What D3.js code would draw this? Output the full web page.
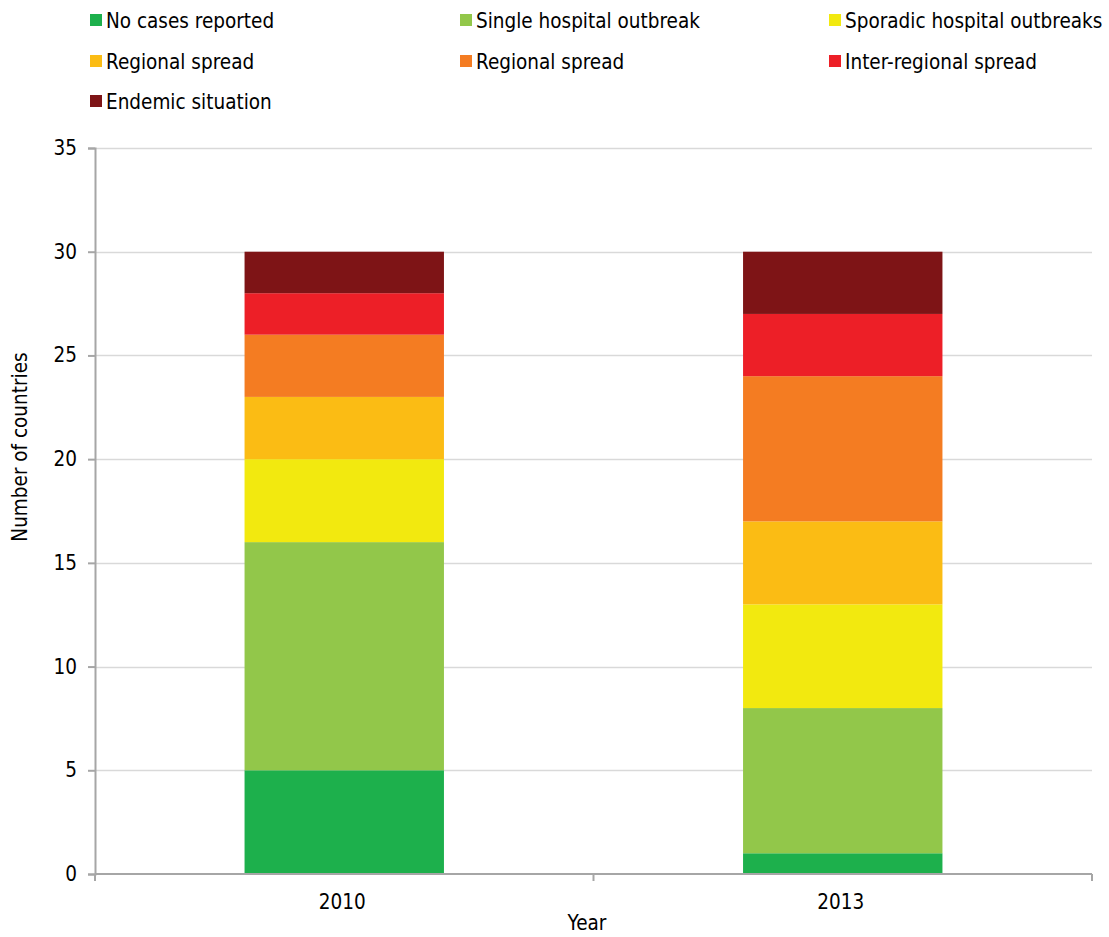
<!DOCTYPE html>
<html>
<head>
<meta charset="utf-8">
<script src="https://cdn.jsdelivr.net/npm/d3@7"></script>
<style>
  html, body { margin: 0; padding: 0; background: #fff; }
  svg { display: block; font-family: "DejaVu Sans Condensed", "DejaVu Sans", sans-serif; }
</style>
</head>
<body>
<svg id="chart" width="1109" height="937"></svg>
<script>
// Country counts by epidemiological stage, per survey year
const years = ["2010", "2013"];
const stages = [
  "No cases reported",
  "Single hospital outbreak",
  "Sporadic hospital outbreaks",
  "Regional spread",
  "Regional spread ",
  "Inter-regional spread",
  "Endemic situation"
];
const values2010 = [5, 11, 4, 3, 3, 2, 2];
const values2013 = [1, 7, 5, 4, 7, 3, 3];
const stageColors = ["#1db04c", "#92c74a", "#f2e90f", "#fbbc14", "#f47c22", "#ed1f27", "#7e1416"];
const yTicks = [0, 5, 10, 15, 20, 25, 30, 35];

const FS = 20.5;
const svg = d3.select("#chart");
const margin = { left: 95, right: 17, top: 148, bottom: 63 };
const W = 1109, H = 937;
const plotW = W - margin.left - margin.right;
const plotH = H - margin.top - margin.bottom;

const rows = years.map((y, i) => {
  const vals = i === 0 ? values2010 : values2013;
  const r = { year: y };
  stages.forEach((s, j) => r[s] = vals[j]);
  return r;
});

const x = d3.scaleBand().domain(years).range([0, plotW]).paddingInner(0.6).paddingOuter(0.3);
const xOuter = d3.scaleBand().domain(years).range([0, plotW]);
const y = d3.scaleLinear().domain([0, 35]).range([plotH, 0]);

const g = svg.append("g").attr("transform", `translate(${margin.left},${margin.top})`);

// horizontal gridlines
g.append("g").selectAll("line").data(yTicks.filter(d => d > 0)).join("line")
  .attr("x1", 0).attr("x2", plotW)
  .attr("y1", d => Math.round(y(d)) + 0.5).attr("y2", d => Math.round(y(d)) + 0.5)
  .attr("stroke", "#d9d9d9").attr("stroke-width", 1.3);

// stacked bars
const series = d3.stack().keys(stages)(rows);
g.append("g").selectAll("g").data(series).join("g")
  .attr("fill", (d, i) => stageColors[i])
  .selectAll("rect").data(d => d).join("rect")
  .attr("x", d => x(d.data.year))
  .attr("width", x.bandwidth())
  .attr("y", d => y(d[1]))
  .attr("height", d => y(d[0]) - y(d[1]));

// y axis
const yAxis = g.append("g").call(d3.axisLeft(y).tickValues(yTicks).tickSize(7).tickPadding(11));
yAxis.select(".domain").attr("stroke", "#a6a6a6").attr("stroke-width", 2);
yAxis.selectAll(".tick line").attr("stroke", "#a6a6a6").attr("stroke-width", 2);
yAxis.selectAll(".tick text").attr("font-size", FS).attr("fill", "#000")
  .attr("font-family", "DejaVu Sans Condensed, DejaVu Sans, sans-serif");

// x axis with tick marks on category boundaries
const xg = g.append("g").attr("transform", `translate(0,${plotH})`);
xg.append("line").attr("x1", 0).attr("x2", plotW).attr("y1", 0).attr("y2", 0)
  .attr("stroke", "#a6a6a6").attr("stroke-width", 2);
const bounds = [0].concat(years.map(d => xOuter(d) + xOuter.bandwidth()));
xg.selectAll("line.b").data(bounds).join("line").attr("class", "b")
  .attr("x1", d => d).attr("x2", d => d).attr("y1", 0).attr("y2", 7)
  .attr("stroke", "#a6a6a6").attr("stroke-width", 2);
xg.selectAll("text").data(years).join("text")
  .attr("x", d => xOuter(d) + xOuter.bandwidth() / 2 - 2)
  .attr("y", 35).attr("text-anchor", "middle").attr("font-size", FS).text(d => d);

// axis titles
svg.append("text").attr("x", 587).attr("y", 930)
  .attr("text-anchor", "middle").attr("font-size", FS).text("Year");
svg.append("text").attr("transform", `translate(27,447) rotate(-90)`)
  .attr("text-anchor", "middle").attr("font-size", FS).text("Number of countries");

// legend, three columns
const legX = [90, 460, 829], legY = [20, 61, 101];
const leg = svg.append("g").selectAll("g").data(stages).join("g")
  .attr("transform", (d, i) => `translate(${legX[i % 3]},${legY[Math.floor(i / 3)]})`);
leg.append("rect").attr("x", 0).attr("y", -6).attr("width", 12).attr("height", 12)
  .attr("fill", (d, i) => stageColors[i]);
leg.append("text").attr("x", 16).attr("y", 7.5).attr("font-size", FS).text(d => d.trim());
</script>
</body>
</html>
